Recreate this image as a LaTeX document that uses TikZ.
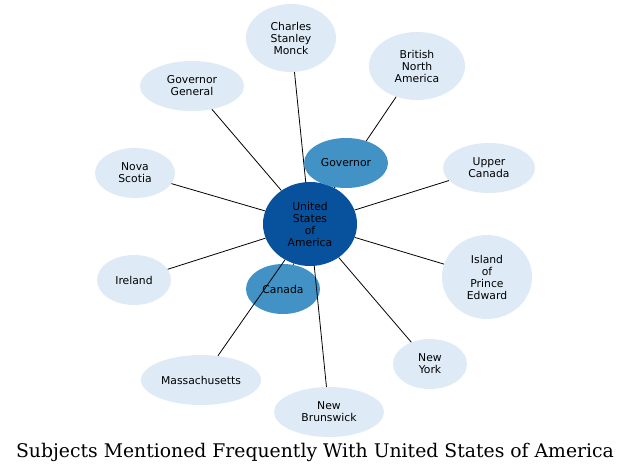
\documentclass[tikz,border=0pt]{standalone}
\usepackage{fontspec}
\newfontfamily\labelfont{DejaVu Sans}
\newfontfamily\captionfont{DejaVu Serif}
\usetikzlibrary{shapes.geometric}
\definecolor{hubblue}{HTML}{08519C}
\definecolor{midblue}{HTML}{4292C6}
\definecolor{paleblue}{HTML}{DEEBF7}
\begin{document}
\begin{tikzpicture}[
  x=1pt, y=-1pt,
  bub/.style={ellipse, inner sep=0pt, align=center,
              font=\labelfont\fontsize{10.8}{12}\selectfont},
  hub/.style={bub, fill=hubblue},
  mid/.style={bub, fill=midblue},
  leaf/.style={bub, fill=paleblue},
  lnk/.style={draw=black, line width=0.8pt},
]
\useasboundingbox (0,0) rectangle (631,474);

% Nodes
\node[mid, minimum width=74pt, minimum height=50pt]  (CAN) at (283,289) {Canada};
\node[hub, minimum width=94pt, minimum height=84pt]  (USA) at (310,224) {United\\States\\of\\America};
\node[leaf, minimum width=90pt, minimum height=68pt] (CSM) at (291,38)  {Charles\\Stanley\\Monck};
\node[leaf, minimum width=96pt, minimum height=68pt] (BNA) at (417,66)  {British\\North\\America};
\node[leaf, minimum width=104pt, minimum height=50pt] (GG) at (192,86)  {Governor\\General};
\node[leaf, minimum width=92pt, minimum height=50pt] (UC)  at (489,168) {Upper\\Canada};
\node[leaf, minimum width=80pt, minimum height=50pt] (NS)  at (135,173) {Nova\\Scotia};
\node[leaf, minimum width=90pt, minimum height=84pt] (IPE) at (487,277) {Island\\of\\Prince\\Edward};
\node[leaf, minimum width=74pt, minimum height=50pt] (IRE) at (134,280) {Ireland};
\node[leaf, minimum width=74pt, minimum height=50pt] (NY)  at (430,364) {New\\York};
\node[leaf, minimum width=120pt, minimum height=50pt] (MA) at (201,380) {Massachusetts};
\node[leaf, minimum width=110pt, minimum height=50pt] (NB) at (329,412) {New\\Brunswick};

% Links from the hub
\foreach \n in {CAN, CSM, BNA, GG, UC, NS, IPE, IRE, NY, MA, NB}
  \draw[lnk] (USA) -- (\n);

% Governor sits over the link to British North America
\node[mid, minimum width=84pt, minimum height=50pt] (GOV) at (346,163) {Governor};
\draw[lnk] (USA) -- (GOV);

% Caption
\node (TTL) at (315,452) {\captionfont\fontsize{18.8}{20}\selectfont Subjects Mentioned Frequently With United States of America};
\end{tikzpicture}
\end{document}
